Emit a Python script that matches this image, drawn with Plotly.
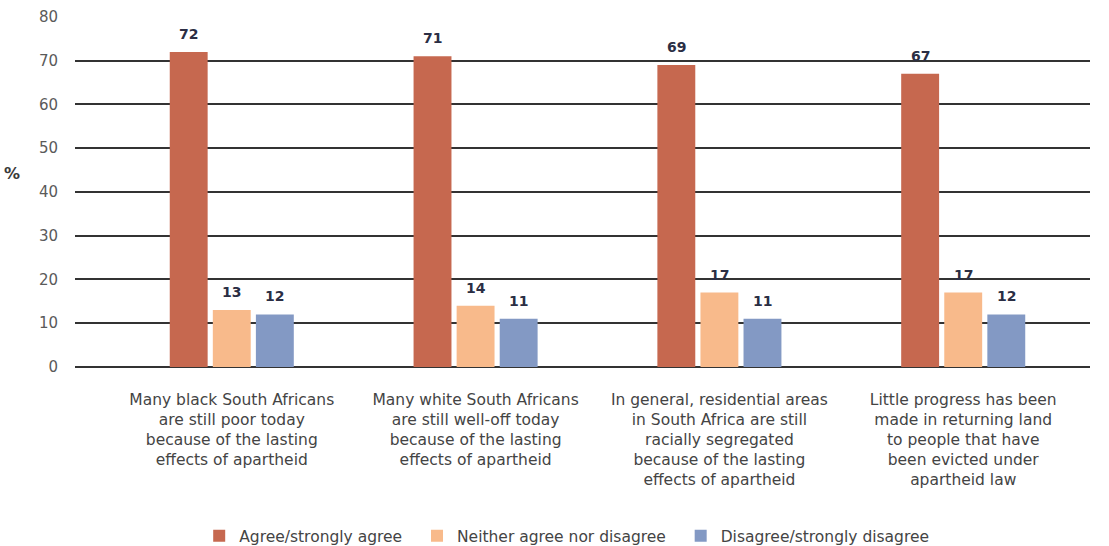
import plotly.graph_objects as go

# Survey statements (x categories) and response shares (%)
categories = [
    "Many black South Africans<br>are still poor today<br>because of the lasting<br>effects of apartheid",
    "Many white South Africans<br>are still well-off today<br>because of the lasting<br>effects of apartheid",
    "In general, residential areas<br>in South Africa are still<br>racially segregated<br>because of the lasting<br>effects of apartheid",
    "Little progress has been<br>made in returning land<br>to people that have<br>been evicted under<br>apartheid law",
]
series_names = ["Agree/strongly agree", "Neither agree nor disagree", "Disagree/strongly disagree"]
agree = [72, 71, 69, 67]
neither = [13, 14, 17, 17]
disagree = [12, 11, 11, 12]
y_ticks = [0, 10, 20, 30, 40, 50, 60, 70, 80]

colors = ["#C6684F", "#F8BA8B", "#8399C4"]
FONT = "DejaVu Sans"
BARGAP = 0.47
BARGROUPGAP = 0.12
LEGEND_PAD = "\u00a0\u00a0"  # extra room between legend entries

series = [agree, neither, disagree]
x_pos = list(range(len(categories)))

fig = go.Figure()
for k, (name, vals, col) in enumerate(zip(series_names, series, colors)):
    fig.add_trace(go.Bar(
        x=x_pos,
        y=vals,
        name=name + (LEGEND_PAD if k < len(series) - 1 else ""),
        marker=dict(color=col, line=dict(width=0)),
    ))

# value labels above each bar, placed at the grouped-bar slot centres
slot = (1 - BARGAP) / len(series)
annotations = []
for j, vals in enumerate(series):
    offset = (j - (len(series) - 1) / 2) * slot
    for i, v in zip(x_pos, vals):
        annotations.append(dict(
            x=i + offset, y=v, xref="x", yref="y",
            text=str(v), showarrow=False,
            xanchor="center", yanchor="middle", yshift=18,
            font=dict(family=FONT, size=14, color="#2B2E44", weight="bold"),
        ))

annotations.append(dict(
    text="%",
    xref="paper", yref="paper",
    x=-0.052, y=0.55,
    xanchor="right", yanchor="middle",
    showarrow=False,
    font=dict(family=FONT, size=16, color="#3A3A3A", weight="bold"),
))

fig.update_layout(
    width=1109,
    height=546,
    margin=dict(l=75, r=19, t=16, b=179, autoexpand=False),
    paper_bgcolor="white",
    plot_bgcolor="white",
    barmode="group",
    bargap=BARGAP,
    bargroupgap=BARGROUPGAP,
    showlegend=True,
    legend=dict(
        orientation="h",
        xref="container", yref="container",
        x=0.511, xanchor="center",
        y=0.018, yanchor="middle",
        font=dict(family=FONT, size=15.5, color="#444444"),
        itemwidth=30,
        traceorder="normal",
    ),
    xaxis=dict(
        range=[-0.643, 3.52],
        tickmode="array",
        tickvals=x_pos,
        ticktext=categories,
        tickfont=dict(family=FONT, size=15.5, color="#444444"),
        showgrid=False,
        showline=False,
        ticks="",
        ticklabelstandoff=21,
        automargin=False,
    ),
    yaxis=dict(
        range=[0, 80.2],
        tickmode="array",
        tickvals=y_ticks,
        tickfont=dict(family=FONT, size=15, color="#5A5A5A"),
        showgrid=True,
        gridcolor="#333333",
        gridwidth=2,
        zeroline=True,
        zerolinecolor="#333333",
        zerolinewidth=2,
        ticks="",
        ticklabelstandoff=16,
        automargin=False,
    ),
    annotations=annotations,
)

fig.write_html("out.html")
